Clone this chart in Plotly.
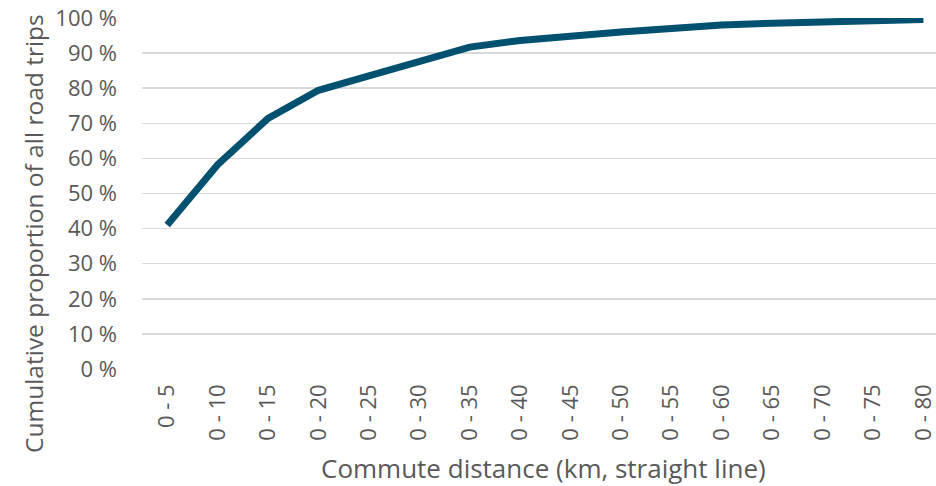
import plotly.graph_objects as go

categories = ["0 - 5", "0 - 10", "0 - 15", "0 - 20", "0 - 25", "0 - 30", "0 - 35", "0 - 40",
              "0 - 45", "0 - 50", "0 - 55", "0 - 60", "0 - 65", "0 - 70", "0 - 75", "0 - 80"]
cumulative_pct = [41.0, 58.2, 71.4, 79.4, 83.5, 87.6, 91.7, 93.6,
                  95.0, 96.0, 97.0, 98.0, 98.5, 98.9, 99.2, 99.6]
y_ticks = [0, 10, 20, 30, 40, 50, 60, 70, 80, 90, 100]
y_tick_labels = [f"{v} %" for v in y_ticks]

FONT = "Open Sans"
GREY = "#595959"

W, H = 936, 486
L, R, T, B = 142, 0, 18, 117
PW, PH = W - L - R, H - T - B


def px_x(page_x):
    return (page_x - L) / PW


def px_y(page_y):
    return (T + PH - page_y) / PH


fig = go.Figure()
fig.add_trace(go.Scatter(
    x=categories, y=cumulative_pct, mode="lines",
    line=dict(color="#00506F", width=7),
    hoverinfo="skip", showlegend=False, cliponaxis=False,
))

fig.update_layout(
    width=W, height=H,
    margin=dict(l=L, r=R, t=T, b=B),
    paper_bgcolor="white", plot_bgcolor="white",
    font=dict(family=FONT, color=GREY, size=20),
    hovermode=False,
    xaxis=dict(
        type="category", range=[-0.5, 15.25], automargin=False,
        tickangle=-90, tickfont=dict(size=22, color=GREY),
        showgrid=False, showline=False, zeroline=False,
        ticklabelstandoff=10, ticklabeloverflow="allow",
    ),
    yaxis=dict(
        range=[0, 100], tickvals=y_ticks, ticktext=y_tick_labels, automargin=False,
        tickfont=dict(size=22, color=GREY),
        showgrid=True, gridcolor="#D9D9D9", gridwidth=1.5,
        zeroline=False, showline=False,
        ticklabelstandoff=24, ticklabeloverflow="allow",
    ),
    annotations=[
        dict(text="Commute distance (km, straight line)", xref="paper", yref="paper",
             x=px_x(543), y=px_y(468), xanchor="center", yanchor="middle",
             showarrow=False, font=dict(size=26, color=GREY, family=FONT)),
        dict(text="Cumulative proportion of all road trips", xref="paper", yref="paper",
             x=px_x(33), y=px_y(234), xanchor="center", yanchor="middle",
             textangle=-90, showarrow=False, font=dict(size=24.5, color=GREY, family=FONT)),
    ],
)

fig.write_html(
    "out.html",
    config={"displayModeBar": False, "staticPlot": True},
    post_script="document.body.style.margin='0';document.body.style.overflow='hidden';",
)
